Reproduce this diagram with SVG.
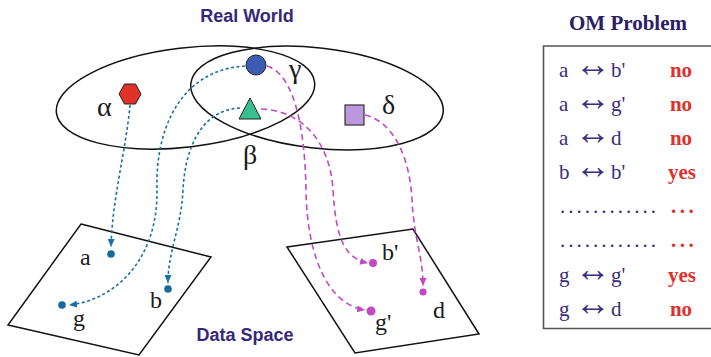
<svg xmlns="http://www.w3.org/2000/svg" width="711" height="357" viewBox="0 0 711 357">
<style>
.title{font-family:"Liberation Sans",Arial,sans-serif;font-weight:bold;font-size:18px;fill:#36277a}
.greek{font-family:"Liberation Serif","Times New Roman",serif;font-size:28px;fill:#1a1a1a}
.lbl{font-family:"Liberation Serif","Times New Roman",serif;font-size:24px;fill:#1a1a1a}
.ell{fill:none;stroke:#111;stroke-width:1.5}
.plane{fill:none;stroke:#111;stroke-width:1.5}
.blue{fill:none;stroke:#1b6fa3;stroke-width:1.6;stroke-dasharray:3 2.5}
.mag{fill:none;stroke:#c348c3;stroke-width:1.6;stroke-dasharray:6 4}
.bdot{fill:#176a9e}
.mdot{fill:#c348c3}
.row{font-family:"Liberation Serif","Times New Roman",serif;font-size:21px;fill:#3a2d80}
.arr{font-size:36px}
.ans{font-family:"Liberation Serif","Times New Roman",serif;font-weight:bold;font-size:21px;fill:#e0302c;text-anchor:middle}
.om{font-family:"Liberation Serif","Times New Roman",serif;font-weight:bold;font-size:21px;fill:#2a2066;text-anchor:middle}
</style>
<defs>
<marker id="ab" markerUnits="userSpaceOnUse" markerWidth="8" markerHeight="7" refX="8" refY="3.5" orient="auto"><path d="M0,0 L8,3.5 L0,7 z" fill="#1b6fa3"/></marker>
<marker id="am" markerUnits="userSpaceOnUse" markerWidth="8" markerHeight="7" refX="8" refY="3.5" orient="auto"><path d="M0,0 L8,3.5 L0,7 z" fill="#c348c3"/></marker>
</defs>
<rect width="711" height="357" fill="#fff"/>

<g id="real-world">
<text class="title" x="247" y="22" text-anchor="middle">Real World</text>
<ellipse id="set-alpha" class="ell" cx="185.5" cy="97.5" rx="130" ry="49.5" transform="rotate(-6.8 185.5 97.5)"/>
<ellipse id="set-delta" class="ell" cx="317" cy="98" rx="127" ry="50" transform="rotate(6.6 317 98)"/>
<text class="greek" x="97" y="116">α</text>
<text class="greek" x="289" y="78">γ</text>
<text class="greek" x="382" y="114">δ</text>
<text class="greek" x="243" y="164">β</text>
</g>

<g id="hexagon"><polygon points="119,94 124.5,84 135.5,84 141,94 135.5,104 124.5,104" fill="#e03327" stroke="#222" stroke-width="1"/></g>
<g id="circle"><circle cx="256" cy="65" r="10" fill="#3b5cb2" stroke="#222" stroke-width="1"/></g>
<g id="triangle"><polygon points="250,98 261,119 239,119" fill="#38c08f" stroke="#222" stroke-width="1"/></g>
<g id="square"><rect x="345" y="105" width="19" height="20" fill="#bb98dc" stroke="#333" stroke-width="1.2"/></g>

<g id="data-space-left">
<polygon class="plane" points="81,224 211,257 139,355 8,325"/>
<circle class="bdot" cx="111" cy="254" r="3.8"/>
<circle class="bdot" cx="168" cy="289" r="3.8"/>
<circle class="bdot" cx="62" cy="305" r="3.8"/>
<text class="lbl" x="80" y="265">a</text>
<text class="lbl" x="150" y="308">b</text>
<text class="lbl" x="73" y="326">g</text>
</g>

<g id="data-space-right">
<polygon class="plane" points="287,247 413,229 479,334 355,353"/>
<circle class="mdot" cx="373" cy="263" r="4"/>
<circle class="mdot" cx="371" cy="311" r="4.5"/>
<circle class="mdot" cx="423" cy="292" r="3.6"/>
<text class="lbl" x="382" y="260">b'</text>
<text class="lbl" x="375" y="330">g'</text>
<text class="lbl" x="433" y="318">d</text>
<text class="title" x="245" y="341" text-anchor="middle">Data Space</text>
</g>

<g id="connectors">
<path class="blue" d="M130,105 C126,150 112,200 111,247" marker-end="url(#ab)"/>
<path class="blue" d="M245,66 C180,70 155,130 157,190 C158,260 115,300 69,305" marker-end="url(#ab)"/>
<path class="blue" d="M240,108 C200,110 185,150 183,190 C181,230 168,250 168,283" marker-end="url(#ab)"/>
<path class="mag" d="M267,66 C295,75 305,130 306,190 C307,260 330,305 365,310" marker-end="url(#am)"/>
<path class="mag" d="M261,109 C300,110 330,140 333,190 C336,240 345,258 368,263" marker-end="url(#am)"/>
<path class="mag" d="M365,115 C395,122 410,160 412,200 C414,240 423,255 423,286" marker-end="url(#am)"/>
</g>

<g id="om-table">
<text class="om" x="628" y="30">OM Problem</text>
<path d="M711,46 H543.5 V328.5 H711" fill="none" stroke="#555" stroke-width="1.6"/>
<text class="row" x="559" y="77">a</text><text class="row arr" x="575" y="76">↔</text><text class="row" x="611" y="77">b'</text>
<text class="row" x="559" y="111">a</text><text class="row arr" x="575" y="110">↔</text><text class="row" x="611" y="111">g'</text>
<text class="row" x="559" y="145">a</text><text class="row arr" x="575" y="144">↔</text><text class="row" x="611" y="145">d</text>
<text class="row" x="559" y="179">b</text><text class="row arr" x="575" y="178">↔</text><text class="row" x="611" y="179">b'</text>
<text class="row" x="560" y="213" letter-spacing="3">............</text>
<text class="row" x="560" y="247" letter-spacing="3">............</text>
<text class="row" x="559" y="282">g</text><text class="row arr" x="575" y="281">↔</text><text class="row" x="611" y="282">g'</text>
<text class="row" x="559" y="316">g</text><text class="row arr" x="575" y="315">↔</text><text class="row" x="611" y="316">d</text>
<text class="ans" x="681" y="77">no</text>
<text class="ans" x="681" y="111">no</text>
<text class="ans" x="681" y="145">no</text>
<text class="ans" x="682" y="179">yes</text>
<text class="ans" x="684" y="213" letter-spacing="3.5">...</text>
<text class="ans" x="684" y="247" letter-spacing="3.5">...</text>
<text class="ans" x="682" y="282">yes</text>
<text class="ans" x="681" y="316">no</text>
</g>
</svg>
